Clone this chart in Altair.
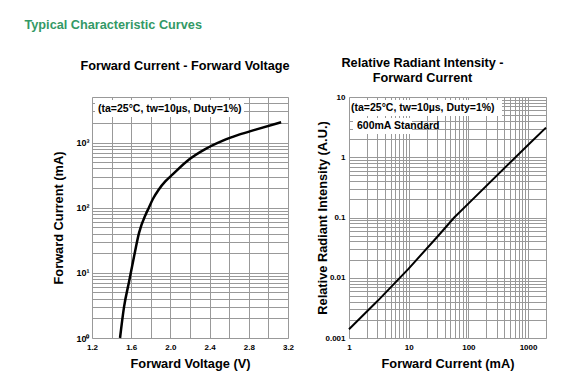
import altair as alt
import pandas as pd

# ---- data ----
fv_voltage = [1.486, 1.527, 1.578, 1.629, 1.68, 1.75, 1.78, 1.82, 1.88, 1.95, 2.02, 2.19, 2.36, 2.53, 2.70, 2.87, 3.13]
fv_current = [1, 3, 7.3, 17.8, 41, 80, 100, 135, 189, 255, 321, 548, 800, 1060, 1320, 1580, 2050]

ri_current = [1, 3, 10, 30, 58, 100, 1000, 2000]
ri_intensity = [0.0014, 0.0041, 0.0142, 0.0475, 0.1, 0.17, 1.6, 3.1]

x1_grid = [1.2, 1.4, 1.6, 1.8, 2.0, 2.2, 2.4, 2.6, 2.8, 3.0, 3.2]
x1_labels = ["1.2", "1.6", "2.0", "2.4", "2.8", "3.2"]
y1_grid = [m * 10 ** e for e in range(0, 3) for m in range(1, 10)] + [1000, 2000, 3000, 4000, 5000]
x2_grid = [m * 10 ** e for e in range(0, 3) for m in range(1, 10)] + [1000, 2000]
x2_labels = ["1", "10", "100", "1000"]
y2_grid = [round(m * 10.0 ** e, 6) for e in range(-3, 1) for m in range(1, 10)] + [10]
y2_labels = ["0.001", "0.01", "0.1", "1", "10"]

FONT = "Liberation Sans"
GRID = "#999999"

fv = pd.DataFrame({"v": fv_voltage, "i": fv_current})
ri = pd.DataFrame({"c": ri_current, "r": ri_intensity})


def axis_common(**kw):
    base = dict(grid=True, gridColor=GRID, gridWidth=1, ticks=False, domain=False,
                labelFont=FONT, labelFontSize=8, labelFontWeight="bold", labelColor="black",
                titleFont=FONT, titleFontSize=12.8, titleFontWeight="bold", titleColor="black",
                titleBaseline="middle", labelOverlap=False, labelBound=False, labelFlush=False)
    base.update(kw)
    return alt.Axis(**base)


def box(x, x2, y, y2):
    return alt.Chart(alt.Data(values=[{}])).mark_rect(fill="white").encode(
        x=alt.value(x), x2=alt.value(x2), y=alt.value(y), y2=alt.value(y2))


def label(t, x, y):
    return alt.Chart(alt.Data(values=[{}])).mark_text(
        text=t, align="left", baseline="middle", font=FONT, fontSize=10.5,
        fontWeight="bold", color="black").encode(x=alt.value(x), y=alt.value(y))


x1_expr = "indexof(" + str(x1_labels) + ", format(datum.value, '.1f')) >= 0 ? format(datum.value, '.1f') : ''"
y1_expr = ("abs(datum.value-1)<1e-6 ? '10⁰' : abs(datum.value-10)<1e-6 ? '10¹' : "
           "abs(datum.value-100)<1e-6 ? '10²' : abs(datum.value-1000)<1e-6 ? '10³' : ''")
x2_expr = "indexof(" + str(x2_labels) + ", format(datum.value, '~g')) >= 0 ? format(datum.value, '~g') : ''"
y2_expr = "indexof(" + str(y2_labels) + ", format(datum.value, '~g')) >= 0 ? format(datum.value, '~g') : ''"

line1 = alt.Chart(fv).mark_line(color="black", strokeWidth=2.5, interpolate="monotone").encode(
    x=alt.X("v:Q", scale=alt.Scale(domain=[1.2, 3.2], nice=False, zero=False),
            axis=axis_common(values=x1_grid, labelExpr=x1_expr, labelPadding=5,
                             title="Forward Voltage (V)", titleY=25)),
    y=alt.Y("i:Q", scale=alt.Scale(type="log", domain=[1, 5000], nice=False),
            axis=axis_common(values=y1_grid, labelExpr=y1_expr, labelPadding=3, labelFontSize=9,
                             title="Forward Current (mA)", titleX=-34)),
    order="v:Q",
)

left = alt.layer(
    box(3, 152, 3, 20),
    line1,
    label("(ta=25°C, tw=10µs, Duty=1%)", 6, 12),
).properties(
    width=196, height=241,
    title=alt.TitleParams("Forward Current - Forward Voltage", font=FONT, fontSize=12.7,
                          fontWeight="bold", color="black", anchor="middle", dx=-5, offset=20),
)

line2 = alt.Chart(ri).mark_line(color="black", strokeWidth=2).encode(
    x=alt.X("c:Q", scale=alt.Scale(type="log", domain=[1, 2000], nice=False),
            axis=axis_common(values=x2_grid, labelExpr=x2_expr, labelPadding=5,
                             title="Forward Current (mA)", titleY=25)),
    y=alt.Y("r:Q", scale=alt.Scale(type="log", domain=[0.001, 10], nice=False),
            axis=axis_common(values=y2_grid, labelExpr=y2_expr, labelPadding=4,
                             title="Relative Radiant Intensity (A.U.)", titleX=-27)),
    order="c:Q",
)

right = alt.layer(
    box(1, 153, 3, 19),
    box(4, 63, 21, 37),
    line2,
    label("(ta=25°C, tw=10µs, Duty=1%)", 2, 11),
    label("600mA Standard", 8, 29),
).properties(
    width=197, height=241,
    title=alt.TitleParams(["Relative Radiant Intensity -", "Forward Current"], font=FONT,
                          fontSize=12.7, fontWeight="bold", color="black", anchor="middle",
                          dx=-25, offset=8, lineHeight=15),
)

chart = alt.hconcat(left, right, spacing=20).properties(
    title=alt.TitleParams("Typical Characteristic Curves", font=FONT, fontSize=12.7,
                          fontWeight="bold", color="#339966", anchor="start", dx=-27, offset=25),
    padding={"left": 16, "top": 11, "right": 5, "bottom": 5},
).configure_view(stroke="black", strokeWidth=1.5).configure(background="white")

chart.save("out.html", embed_options={"renderer": "svg", "actions": False})
